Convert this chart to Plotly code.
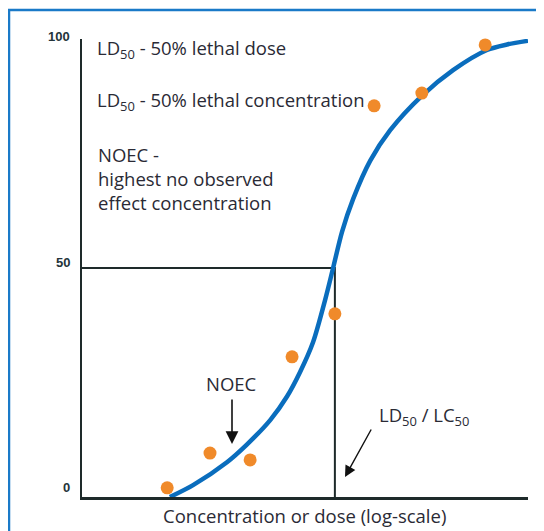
import plotly.graph_objects as go

# Dose-response curve (x: relative log-concentration 0-100, y: % effect)
curve_x = [19.7, 24.9, 32.5, 36.9, 42.2, 46.0, 48.9, 51.8, 54.5, 56.3, 58.3, 60.8, 64.6, 69.1, 76.2, 83.2, 90.8, 95.3, 100.0]
curve_y = [0.0, 2.6, 7.6, 11.4, 16.8, 22.0, 27.3, 33.8, 43.0, 50.0, 57.9, 65.1, 73.4, 80.1, 87.6, 93.2, 97.6, 98.8, 99.6]

# Observed data points
obs_x = [19.1, 28.7, 37.7, 47.1, 56.7, 65.5, 76.2, 90.4]
obs_y = [2.0, 9.6, 8.1, 30.6, 40.0, 85.4, 88.2, 98.7]

# LD50 reference
ld50_x = 56.7
ld50_y = 50

tick_vals = [0, 50, 100]
tick_text = ["0", "50", "100"]

BLUE = "#0a6dbd"
ORANGE = "#f08a2a"
DARK = "#1e2a2a"
TEXT = "#2a2a35"
FONT = "Open Sans"
FS = 18.5


def px_x(p):
    return (p - 82) / 446


def px_y(p):
    return (497 - p) / 458


fig = go.Figure()

# LD50 guide lines
fig.add_trace(go.Scatter(x=[0, ld50_x, ld50_x], y=[ld50_y, ld50_y, 0], mode="lines",
                         line=dict(color=DARK, width=2), hoverinfo="skip", showlegend=False))

fig.add_trace(go.Scatter(x=curve_x, y=curve_y, mode="lines",
                         line=dict(color=BLUE, width=4.5, shape="spline", smoothing=0.8),
                         showlegend=False, cliponaxis=False))

fig.add_trace(go.Scatter(x=obs_x, y=obs_y, mode="markers",
                         marker=dict(color=ORANGE, size=13, line=dict(width=0)),
                         showlegend=False, cliponaxis=False))

ann = []
shifts = {0: 10, 50: 6, 100: 3}
for v, t in zip(tick_vals, tick_text):
    ann.append(dict(x=px_x(72), xref="paper", y=v, yref="y", text="<b>" + t + "</b>", showarrow=False,
                    xanchor="right", yanchor="middle", yshift=shifts[v],
                    font=dict(family="Liberation Sans", size=13, color="#24343a")))

texts = [
    ("LD<sub>50</sub> - 50% lethal dose", 95, 49),
    ("LD<sub>50</sub> - 50% lethal concentration", 95, 101),
]
for t, px, py in texts:
    ann.append(dict(x=px_x(px), xref="paper", y=px_y(py), yref="paper", text=t,
                    showarrow=False, xanchor="left", yanchor="middle",
                    font=dict(family=FONT, size=FS, color=TEXT)))

ann.append(dict(x=px_x(96), xref="paper", y=px_y(140), yref="paper",
                text="NOEC -<br>highest no observed<br>effect concentration", align="left",
                showarrow=False, xanchor="left", yanchor="top",
                font=dict(family=FONT, size=FS, color=TEXT)))

ann.append(dict(x=px_x(231), xref="paper", y=px_y(383), yref="paper",
                text="NOEC", showarrow=False, xanchor="center", yanchor="middle",
                font=dict(family=FONT, size=FS, color=TEXT)))

ann.append(dict(x=px_x(377), xref="paper", y=px_y(416), yref="paper",
                text="LD<sub>50</sub> / LC<sub>50</sub>", showarrow=False, xanchor="left", yanchor="middle",
                font=dict(family=FONT, size=FS, color=TEXT)))

# arrows
ann.append(dict(x=px_x(232), xref="x domain", y=px_y(444), yref="y domain",
                ax=px_x(232), axref="x domain", ay=px_y(398), ayref="y domain",
                text="", showarrow=True, arrowhead=2, arrowsize=1.6, arrowwidth=1.6, arrowcolor="#111"))
ann.append(dict(x=px_x(345), xref="x domain", y=px_y(477), yref="y domain",
                ax=px_x(372), axref="x domain", ay=px_y(428), ayref="y domain",
                text="", showarrow=True, arrowhead=2, arrowsize=1.6, arrowwidth=1.4, arrowcolor="#111"))

ann.append(dict(x=px_x(304), xref="paper", y=px_y(515), yref="paper",
                text="Concentration or dose (log-scale)", showarrow=False,
                xanchor="center", yanchor="middle", font=dict(family=FONT, size=FS, color=TEXT)))

shapes = [dict(type="rect", xref="paper", yref="paper",
               x0=px_x(9), x1=1.2, y0=-0.3, y1=px_y(10),
               line=dict(color="#1a7ac8", width=2.5), fillcolor="rgba(0,0,0,0)", layer="below")]

# page body has an 8px margin, so offset the figure margins by 8px
fig.update_layout(
    width=544, height=531,
    margin=dict(l=74, r=24, t=31, b=42),
    paper_bgcolor="white", plot_bgcolor="white",
    xaxis=dict(range=[0, 100], showgrid=False, zeroline=False, showticklabels=False,
               showline=True, linecolor=DARK, linewidth=3, ticks=""),
    yaxis=dict(range=[0, 100], showgrid=False, zeroline=False, showticklabels=False,
               showline=True, linecolor=DARK, linewidth=2, ticks=""),
    annotations=ann, shapes=shapes,
)

fig.write_html("out.html")
